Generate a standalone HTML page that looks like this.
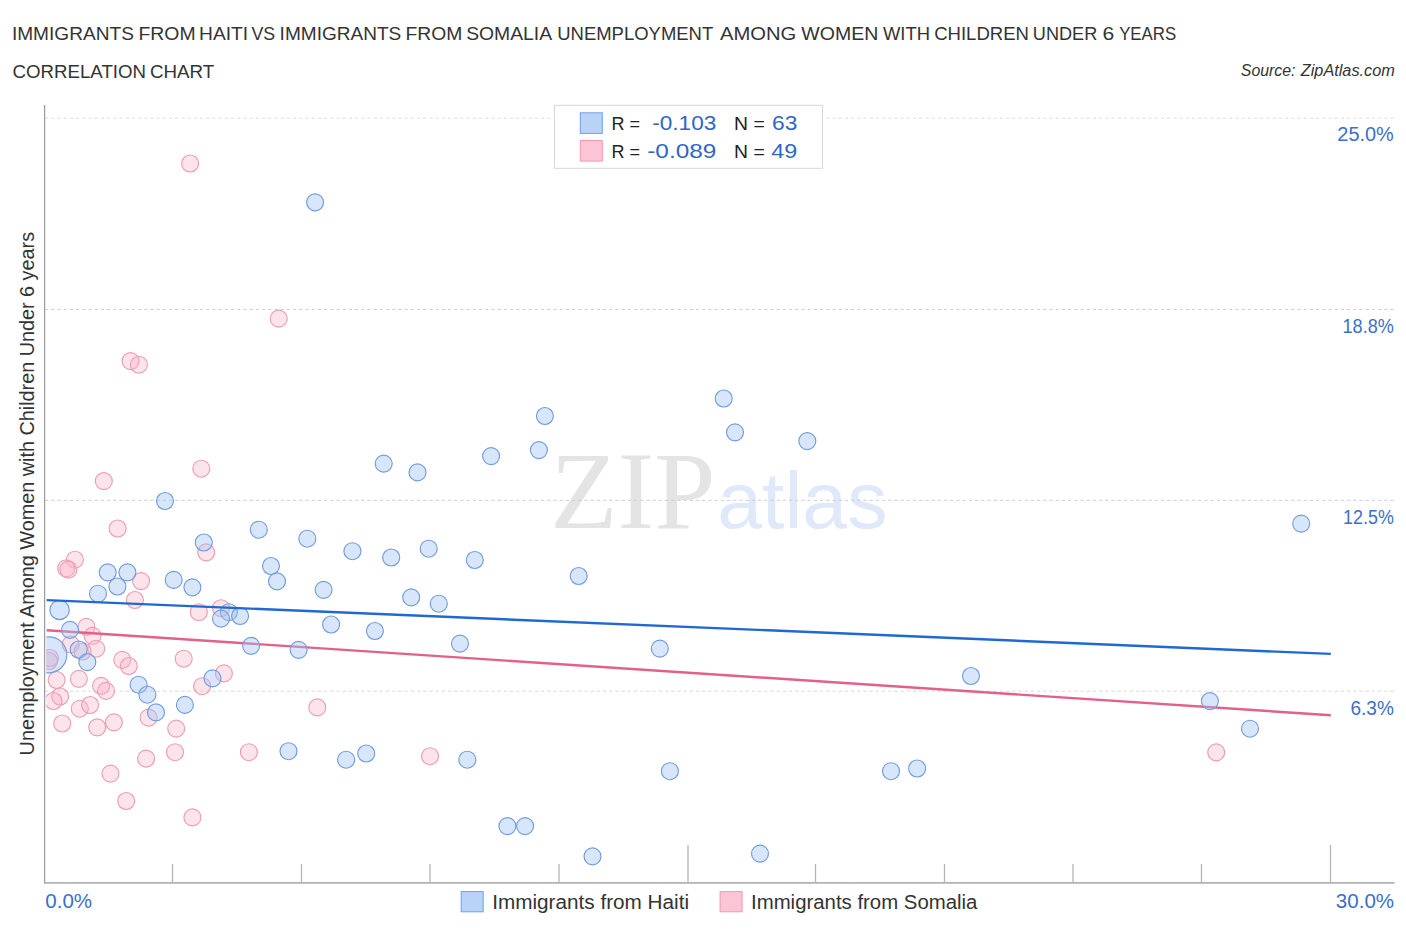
<!DOCTYPE html>
<html><head><meta charset="utf-8"><title>Correlation Chart</title>
<style>
html,body{margin:0;padding:0;background:#fff;}
body{width:1406px;height:930px;overflow:hidden;font-family:"Liberation Sans",sans-serif;}
svg{display:block;position:absolute;left:0;top:0;}
text{font-family:"Liberation Sans",sans-serif;}
.ser{font-family:"Liberation Serif",serif;}
</style></head><body>
<svg width="1406" height="930" viewBox="0 0 1406 930">
<defs><clipPath id="plot"><rect x="46.3" y="100" width="1300" height="783"/></clipPath></defs>
<rect width="1406" height="930" fill="#ffffff"/>
<text x="11.91" y="39.9" font-size="18.7" fill="#333333" textLength="121.99" lengthAdjust="spacingAndGlyphs" >IMMIGRANTS</text>
<text x="138.48" y="39.9" font-size="18.7" fill="#333333" textLength="57.12" lengthAdjust="spacingAndGlyphs" >FROM</text>
<text x="199.10" y="39.9" font-size="18.7" fill="#333333" textLength="49.03" lengthAdjust="spacingAndGlyphs" >HAITI</text>
<text x="251.50" y="39.9" font-size="18.7" fill="#333333" textLength="23.75" lengthAdjust="spacingAndGlyphs" >VS</text>
<text x="279.61" y="39.9" font-size="18.7" fill="#333333" textLength="121.69" lengthAdjust="spacingAndGlyphs" >IMMIGRANTS</text>
<text x="405.59" y="39.9" font-size="18.7" fill="#333333" textLength="56.81" lengthAdjust="spacingAndGlyphs" >FROM</text>
<text x="466.20" y="39.9" font-size="18.7" fill="#333333" textLength="85.91" lengthAdjust="spacingAndGlyphs" >SOMALIA</text>
<text x="557.25" y="39.9" font-size="18.7" fill="#333333" textLength="155.97" lengthAdjust="spacingAndGlyphs" >UNEMPLOYMENT</text>
<text x="720.00" y="39.9" font-size="18.7" fill="#333333" textLength="76.31" lengthAdjust="spacingAndGlyphs" >AMONG</text>
<text x="801.30" y="39.9" font-size="18.7" fill="#333333" textLength="76.99" lengthAdjust="spacingAndGlyphs" >WOMEN</text>
<text x="883.00" y="39.9" font-size="18.7" fill="#333333" textLength="47.00" lengthAdjust="spacingAndGlyphs" >WITH</text>
<text x="934.13" y="39.9" font-size="18.7" fill="#333333" textLength="94.88" lengthAdjust="spacingAndGlyphs" >CHILDREN</text>
<text x="1032.87" y="39.9" font-size="18.7" fill="#333333" textLength="64.36" lengthAdjust="spacingAndGlyphs" >UNDER</text>
<text x="1102.51" y="39.9" font-size="18.7" fill="#333333" textLength="11.75" lengthAdjust="spacingAndGlyphs" >6</text>
<text x="1119.14" y="39.9" font-size="18.7" fill="#333333" textLength="57.07" lengthAdjust="spacingAndGlyphs" >YEARS</text>
<text x="12.52" y="77.7" font-size="18.7" fill="#333333" textLength="133.50" lengthAdjust="spacingAndGlyphs" >CORRELATION</text>
<text x="149.92" y="77.7" font-size="18.7" fill="#333333" textLength="64.30" lengthAdjust="spacingAndGlyphs" >CHART</text>
<text x="1240.85" y="75.8" font-size="16" font-style="italic" fill="#333333" textLength="54.69" lengthAdjust="spacingAndGlyphs" >Source:</text>
<text x="1300.81" y="75.8" font-size="16" font-style="italic" fill="#333333" textLength="93.98" lengthAdjust="spacingAndGlyphs" >ZipAtlas.com</text>
<text class="ser" x="550.24" y="527.7" font-size="110" fill="#e4e4e4" textLength="165.21" lengthAdjust="spacingAndGlyphs" >ZIP</text>
<text x="717.18" y="527.7" font-size="79" fill="#dfe9f9" textLength="170.34" lengthAdjust="spacingAndGlyphs" >atlas</text>
<line x1="45" y1="118.2" x2="1394.5" y2="118.2" stroke="#dedede" stroke-width="1" stroke-dasharray="3.2 3"/>
<line x1="45" y1="309.4" x2="1394.5" y2="309.4" stroke="#cdcdcd" stroke-width="1" stroke-dasharray="3.2 3"/>
<line x1="45" y1="500.3" x2="1394.5" y2="500.3" stroke="#cdcdcd" stroke-width="1" stroke-dasharray="3.2 3"/>
<line x1="45" y1="691.2" x2="1394.5" y2="691.2" stroke="#d8d8d8" stroke-width="1" stroke-dasharray="3.2 3"/>
<line x1="44.6" y1="105" x2="44.6" y2="883.8" stroke="#9e9e9e" stroke-width="1.3"/>
<line x1="44" y1="882.9" x2="1394.5" y2="882.9" stroke="#b2b2b2" stroke-width="1.7"/>
<line x1="172.5" y1="864" x2="172.5" y2="883" stroke="#b4b4b4" stroke-width="1.3"/>
<line x1="301.5" y1="864" x2="301.5" y2="883" stroke="#b4b4b4" stroke-width="1.3"/>
<line x1="430" y1="864" x2="430" y2="883" stroke="#b4b4b4" stroke-width="1.3"/>
<line x1="559" y1="864" x2="559" y2="883" stroke="#b4b4b4" stroke-width="1.3"/>
<line x1="688" y1="845" x2="688" y2="883" stroke="#b4b4b4" stroke-width="1.3"/>
<line x1="815.5" y1="864" x2="815.5" y2="883" stroke="#b4b4b4" stroke-width="1.3"/>
<line x1="944.5" y1="864" x2="944.5" y2="883" stroke="#b4b4b4" stroke-width="1.3"/>
<line x1="1073" y1="864" x2="1073" y2="883" stroke="#b4b4b4" stroke-width="1.3"/>
<line x1="1201.5" y1="864" x2="1201.5" y2="883" stroke="#b4b4b4" stroke-width="1.3"/>
<line x1="1330.5" y1="845" x2="1330.5" y2="883" stroke="#b4b4b4" stroke-width="1.3"/>
<g transform="translate(34.4,754.2) rotate(-90)"><text x="-1.23" y="0" font-size="20" fill="#333333" textLength="523.45" lengthAdjust="spacingAndGlyphs" >Unemployment Among Women with Children Under 6 years</text></g>
<g clip-path="url(#plot)">
<circle cx="190.1" cy="163.5" r="8.5" fill="rgba(250,178,198,0.37)" stroke="#ed9db2" stroke-width="1.15"/>
<circle cx="278.7" cy="318.6" r="8.5" fill="rgba(250,178,198,0.37)" stroke="#ed9db2" stroke-width="1.15"/>
<circle cx="130.6" cy="361.1" r="8.5" fill="rgba(250,178,198,0.37)" stroke="#ed9db2" stroke-width="1.15"/>
<circle cx="138.9" cy="364.7" r="8.5" fill="rgba(250,178,198,0.37)" stroke="#ed9db2" stroke-width="1.15"/>
<circle cx="103.8" cy="481.1" r="8.5" fill="rgba(250,178,198,0.37)" stroke="#ed9db2" stroke-width="1.15"/>
<circle cx="201.3" cy="468.7" r="8.5" fill="rgba(250,178,198,0.37)" stroke="#ed9db2" stroke-width="1.15"/>
<circle cx="117.6" cy="528.5" r="8.5" fill="rgba(250,178,198,0.37)" stroke="#ed9db2" stroke-width="1.15"/>
<circle cx="206.2" cy="552.3" r="8.5" fill="rgba(250,178,198,0.37)" stroke="#ed9db2" stroke-width="1.15"/>
<circle cx="74.9" cy="559.7" r="8.5" fill="rgba(250,178,198,0.37)" stroke="#ed9db2" stroke-width="1.15"/>
<circle cx="66.2" cy="568.4" r="8.5" fill="rgba(250,178,198,0.37)" stroke="#ed9db2" stroke-width="1.15"/>
<circle cx="68.4" cy="569.6" r="8.5" fill="rgba(250,178,198,0.37)" stroke="#ed9db2" stroke-width="1.15"/>
<circle cx="141.1" cy="581.1" r="8.5" fill="rgba(250,178,198,0.37)" stroke="#ed9db2" stroke-width="1.15"/>
<circle cx="134.9" cy="600.0" r="8.5" fill="rgba(250,178,198,0.37)" stroke="#ed9db2" stroke-width="1.15"/>
<circle cx="198.8" cy="612.2" r="8.5" fill="rgba(250,178,198,0.37)" stroke="#ed9db2" stroke-width="1.15"/>
<circle cx="221.0" cy="608.2" r="8.5" fill="rgba(250,178,198,0.37)" stroke="#ed9db2" stroke-width="1.15"/>
<circle cx="86.4" cy="626.9" r="8.5" fill="rgba(250,178,198,0.37)" stroke="#ed9db2" stroke-width="1.15"/>
<circle cx="92.6" cy="635.8" r="8.5" fill="rgba(250,178,198,0.37)" stroke="#ed9db2" stroke-width="1.15"/>
<circle cx="96.2" cy="648.7" r="8.5" fill="rgba(250,178,198,0.37)" stroke="#ed9db2" stroke-width="1.15"/>
<circle cx="70.7" cy="644.3" r="8.5" fill="rgba(250,178,198,0.37)" stroke="#ed9db2" stroke-width="1.15"/>
<circle cx="82.6" cy="651.5" r="8.5" fill="rgba(250,178,198,0.37)" stroke="#ed9db2" stroke-width="1.15"/>
<circle cx="50.0" cy="658.0" r="8.5" fill="rgba(250,178,198,0.37)" stroke="#ed9db2" stroke-width="1.15"/>
<circle cx="49.0" cy="661.0" r="8.5" fill="rgba(250,178,198,0.37)" stroke="#ed9db2" stroke-width="1.15"/>
<circle cx="122.3" cy="659.8" r="8.5" fill="rgba(250,178,198,0.37)" stroke="#ed9db2" stroke-width="1.15"/>
<circle cx="128.8" cy="666.0" r="8.5" fill="rgba(250,178,198,0.37)" stroke="#ed9db2" stroke-width="1.15"/>
<circle cx="183.7" cy="658.7" r="8.5" fill="rgba(250,178,198,0.37)" stroke="#ed9db2" stroke-width="1.15"/>
<circle cx="223.9" cy="673.4" r="8.5" fill="rgba(250,178,198,0.37)" stroke="#ed9db2" stroke-width="1.15"/>
<circle cx="202.1" cy="686.2" r="8.5" fill="rgba(250,178,198,0.37)" stroke="#ed9db2" stroke-width="1.15"/>
<circle cx="56.6" cy="680.0" r="8.5" fill="rgba(250,178,198,0.37)" stroke="#ed9db2" stroke-width="1.15"/>
<circle cx="78.8" cy="678.8" r="8.5" fill="rgba(250,178,198,0.37)" stroke="#ed9db2" stroke-width="1.15"/>
<circle cx="101.1" cy="685.8" r="8.5" fill="rgba(250,178,198,0.37)" stroke="#ed9db2" stroke-width="1.15"/>
<circle cx="106.0" cy="690.8" r="8.5" fill="rgba(250,178,198,0.37)" stroke="#ed9db2" stroke-width="1.15"/>
<circle cx="60.1" cy="696.5" r="8.5" fill="rgba(250,178,198,0.37)" stroke="#ed9db2" stroke-width="1.15"/>
<circle cx="53.5" cy="701.0" r="8.5" fill="rgba(250,178,198,0.37)" stroke="#ed9db2" stroke-width="1.15"/>
<circle cx="79.8" cy="708.7" r="8.5" fill="rgba(250,178,198,0.37)" stroke="#ed9db2" stroke-width="1.15"/>
<circle cx="90.1" cy="705.0" r="8.5" fill="rgba(250,178,198,0.37)" stroke="#ed9db2" stroke-width="1.15"/>
<circle cx="62.2" cy="723.5" r="8.5" fill="rgba(250,178,198,0.37)" stroke="#ed9db2" stroke-width="1.15"/>
<circle cx="97.2" cy="727.3" r="8.5" fill="rgba(250,178,198,0.37)" stroke="#ed9db2" stroke-width="1.15"/>
<circle cx="113.9" cy="722.3" r="8.5" fill="rgba(250,178,198,0.37)" stroke="#ed9db2" stroke-width="1.15"/>
<circle cx="148.6" cy="717.6" r="8.5" fill="rgba(250,178,198,0.37)" stroke="#ed9db2" stroke-width="1.15"/>
<circle cx="176.2" cy="728.6" r="8.5" fill="rgba(250,178,198,0.37)" stroke="#ed9db2" stroke-width="1.15"/>
<circle cx="146.1" cy="758.6" r="8.5" fill="rgba(250,178,198,0.37)" stroke="#ed9db2" stroke-width="1.15"/>
<circle cx="175.0" cy="752.2" r="8.5" fill="rgba(250,178,198,0.37)" stroke="#ed9db2" stroke-width="1.15"/>
<circle cx="248.9" cy="752.2" r="8.5" fill="rgba(250,178,198,0.37)" stroke="#ed9db2" stroke-width="1.15"/>
<circle cx="110.5" cy="773.6" r="8.5" fill="rgba(250,178,198,0.37)" stroke="#ed9db2" stroke-width="1.15"/>
<circle cx="126.2" cy="801.0" r="8.5" fill="rgba(250,178,198,0.37)" stroke="#ed9db2" stroke-width="1.15"/>
<circle cx="192.4" cy="817.4" r="8.5" fill="rgba(250,178,198,0.37)" stroke="#ed9db2" stroke-width="1.15"/>
<circle cx="317.3" cy="707.4" r="8.5" fill="rgba(250,178,198,0.37)" stroke="#ed9db2" stroke-width="1.15"/>
<circle cx="430.0" cy="756.2" r="8.5" fill="rgba(250,178,198,0.37)" stroke="#ed9db2" stroke-width="1.15"/>
<circle cx="1216.2" cy="752.3" r="8.5" fill="rgba(250,178,198,0.37)" stroke="#ed9db2" stroke-width="1.15"/>
</g>
<line x1="46.7" y1="630.2" x2="1330.8" y2="715.2" stroke="#e3608a" stroke-width="2.4"/>
<g clip-path="url(#plot)">
<circle cx="315.1" cy="202.3" r="8.5" fill="rgba(160,196,244,0.42)" stroke="#729cde" stroke-width="1.15"/>
<circle cx="723.7" cy="398.5" r="8.5" fill="rgba(160,196,244,0.42)" stroke="#729cde" stroke-width="1.15"/>
<circle cx="544.9" cy="416.0" r="8.5" fill="rgba(160,196,244,0.42)" stroke="#729cde" stroke-width="1.15"/>
<circle cx="735.0" cy="432.3" r="8.5" fill="rgba(160,196,244,0.42)" stroke="#729cde" stroke-width="1.15"/>
<circle cx="807.3" cy="441.1" r="8.5" fill="rgba(160,196,244,0.42)" stroke="#729cde" stroke-width="1.15"/>
<circle cx="538.9" cy="450.1" r="8.5" fill="rgba(160,196,244,0.42)" stroke="#729cde" stroke-width="1.15"/>
<circle cx="491.1" cy="456.1" r="8.5" fill="rgba(160,196,244,0.42)" stroke="#729cde" stroke-width="1.15"/>
<circle cx="383.7" cy="463.6" r="8.5" fill="rgba(160,196,244,0.42)" stroke="#729cde" stroke-width="1.15"/>
<circle cx="417.5" cy="472.4" r="8.5" fill="rgba(160,196,244,0.42)" stroke="#729cde" stroke-width="1.15"/>
<circle cx="165.0" cy="501.0" r="8.5" fill="rgba(160,196,244,0.42)" stroke="#729cde" stroke-width="1.15"/>
<circle cx="258.8" cy="529.7" r="8.5" fill="rgba(160,196,244,0.42)" stroke="#729cde" stroke-width="1.15"/>
<circle cx="203.8" cy="542.5" r="8.5" fill="rgba(160,196,244,0.42)" stroke="#729cde" stroke-width="1.15"/>
<circle cx="307.3" cy="538.7" r="8.5" fill="rgba(160,196,244,0.42)" stroke="#729cde" stroke-width="1.15"/>
<circle cx="352.4" cy="551.2" r="8.5" fill="rgba(160,196,244,0.42)" stroke="#729cde" stroke-width="1.15"/>
<circle cx="391.2" cy="557.5" r="8.5" fill="rgba(160,196,244,0.42)" stroke="#729cde" stroke-width="1.15"/>
<circle cx="428.7" cy="548.7" r="8.5" fill="rgba(160,196,244,0.42)" stroke="#729cde" stroke-width="1.15"/>
<circle cx="474.8" cy="560.0" r="8.5" fill="rgba(160,196,244,0.42)" stroke="#729cde" stroke-width="1.15"/>
<circle cx="578.7" cy="576.0" r="8.5" fill="rgba(160,196,244,0.42)" stroke="#729cde" stroke-width="1.15"/>
<circle cx="271.0" cy="566.0" r="8.5" fill="rgba(160,196,244,0.42)" stroke="#729cde" stroke-width="1.15"/>
<circle cx="277.0" cy="581.3" r="8.5" fill="rgba(160,196,244,0.42)" stroke="#729cde" stroke-width="1.15"/>
<circle cx="323.6" cy="589.8" r="8.5" fill="rgba(160,196,244,0.42)" stroke="#729cde" stroke-width="1.15"/>
<circle cx="411.2" cy="597.3" r="8.5" fill="rgba(160,196,244,0.42)" stroke="#729cde" stroke-width="1.15"/>
<circle cx="438.8" cy="603.7" r="8.5" fill="rgba(160,196,244,0.42)" stroke="#729cde" stroke-width="1.15"/>
<circle cx="107.7" cy="572.3" r="8.5" fill="rgba(160,196,244,0.42)" stroke="#729cde" stroke-width="1.15"/>
<circle cx="127.4" cy="572.3" r="8.5" fill="rgba(160,196,244,0.42)" stroke="#729cde" stroke-width="1.15"/>
<circle cx="117.4" cy="586.5" r="8.5" fill="rgba(160,196,244,0.42)" stroke="#729cde" stroke-width="1.15"/>
<circle cx="98.0" cy="593.7" r="8.5" fill="rgba(160,196,244,0.42)" stroke="#729cde" stroke-width="1.15"/>
<circle cx="173.7" cy="579.8" r="8.5" fill="rgba(160,196,244,0.42)" stroke="#729cde" stroke-width="1.15"/>
<circle cx="192.4" cy="587.3" r="8.5" fill="rgba(160,196,244,0.42)" stroke="#729cde" stroke-width="1.15"/>
<circle cx="59.6" cy="609.9" r="9.7" fill="rgba(160,196,244,0.42)" stroke="#729cde" stroke-width="1.15"/>
<circle cx="70.0" cy="629.8" r="8.5" fill="rgba(160,196,244,0.42)" stroke="#729cde" stroke-width="1.15"/>
<circle cx="228.9" cy="612.2" r="8.5" fill="rgba(160,196,244,0.42)" stroke="#729cde" stroke-width="1.15"/>
<circle cx="221.0" cy="618.6" r="8.5" fill="rgba(160,196,244,0.42)" stroke="#729cde" stroke-width="1.15"/>
<circle cx="240.1" cy="616.0" r="8.5" fill="rgba(160,196,244,0.42)" stroke="#729cde" stroke-width="1.15"/>
<circle cx="251.1" cy="645.8" r="8.5" fill="rgba(160,196,244,0.42)" stroke="#729cde" stroke-width="1.15"/>
<circle cx="78.7" cy="649.5" r="8.5" fill="rgba(160,196,244,0.42)" stroke="#729cde" stroke-width="1.15"/>
<circle cx="87.3" cy="662.1" r="8.5" fill="rgba(160,196,244,0.42)" stroke="#729cde" stroke-width="1.15"/>
<circle cx="138.6" cy="684.7" r="8.5" fill="rgba(160,196,244,0.42)" stroke="#729cde" stroke-width="1.15"/>
<circle cx="147.4" cy="694.7" r="8.5" fill="rgba(160,196,244,0.42)" stroke="#729cde" stroke-width="1.15"/>
<circle cx="212.5" cy="678.4" r="8.5" fill="rgba(160,196,244,0.42)" stroke="#729cde" stroke-width="1.15"/>
<circle cx="48.8" cy="654.8" r="18.0" fill="rgba(160,196,244,0.42)" stroke="#729cde" stroke-width="1.15"/>
<circle cx="156.0" cy="712.4" r="8.5" fill="rgba(160,196,244,0.42)" stroke="#729cde" stroke-width="1.15"/>
<circle cx="184.9" cy="704.9" r="8.5" fill="rgba(160,196,244,0.42)" stroke="#729cde" stroke-width="1.15"/>
<circle cx="331.1" cy="624.5" r="8.5" fill="rgba(160,196,244,0.42)" stroke="#729cde" stroke-width="1.15"/>
<circle cx="374.9" cy="631.0" r="8.5" fill="rgba(160,196,244,0.42)" stroke="#729cde" stroke-width="1.15"/>
<circle cx="298.6" cy="649.8" r="8.5" fill="rgba(160,196,244,0.42)" stroke="#729cde" stroke-width="1.15"/>
<circle cx="460.0" cy="643.6" r="8.5" fill="rgba(160,196,244,0.42)" stroke="#729cde" stroke-width="1.15"/>
<circle cx="288.5" cy="751.2" r="8.5" fill="rgba(160,196,244,0.42)" stroke="#729cde" stroke-width="1.15"/>
<circle cx="346.1" cy="759.7" r="8.5" fill="rgba(160,196,244,0.42)" stroke="#729cde" stroke-width="1.15"/>
<circle cx="366.2" cy="753.5" r="8.5" fill="rgba(160,196,244,0.42)" stroke="#729cde" stroke-width="1.15"/>
<circle cx="467.3" cy="759.7" r="8.5" fill="rgba(160,196,244,0.42)" stroke="#729cde" stroke-width="1.15"/>
<circle cx="507.4" cy="826.1" r="8.5" fill="rgba(160,196,244,0.42)" stroke="#729cde" stroke-width="1.15"/>
<circle cx="525.1" cy="826.1" r="8.5" fill="rgba(160,196,244,0.42)" stroke="#729cde" stroke-width="1.15"/>
<circle cx="659.8" cy="648.6" r="8.5" fill="rgba(160,196,244,0.42)" stroke="#729cde" stroke-width="1.15"/>
<circle cx="971.0" cy="676.0" r="8.5" fill="rgba(160,196,244,0.42)" stroke="#729cde" stroke-width="1.15"/>
<circle cx="669.9" cy="771.2" r="8.5" fill="rgba(160,196,244,0.42)" stroke="#729cde" stroke-width="1.15"/>
<circle cx="891.0" cy="771.2" r="8.5" fill="rgba(160,196,244,0.42)" stroke="#729cde" stroke-width="1.15"/>
<circle cx="917.1" cy="768.5" r="8.5" fill="rgba(160,196,244,0.42)" stroke="#729cde" stroke-width="1.15"/>
<circle cx="592.5" cy="856.3" r="8.5" fill="rgba(160,196,244,0.42)" stroke="#729cde" stroke-width="1.15"/>
<circle cx="760.0" cy="853.6" r="8.5" fill="rgba(160,196,244,0.42)" stroke="#729cde" stroke-width="1.15"/>
<circle cx="1301.2" cy="523.6" r="8.5" fill="rgba(160,196,244,0.42)" stroke="#729cde" stroke-width="1.15"/>
<circle cx="1209.9" cy="701.1" r="8.5" fill="rgba(160,196,244,0.42)" stroke="#729cde" stroke-width="1.15"/>
<circle cx="1250.0" cy="728.7" r="8.5" fill="rgba(160,196,244,0.42)" stroke="#729cde" stroke-width="1.15"/>
</g>
<line x1="46.7" y1="600.1" x2="1330.8" y2="653.9" stroke="#2069d0" stroke-width="2.4"/>
<text x="1337.37" y="141.1" font-size="20" fill="#3c6fcc" textLength="56.43" lengthAdjust="spacingAndGlyphs" >25.0%</text>
<text x="1342.57" y="332.8" font-size="20" fill="#3c6fcc" textLength="51.17" lengthAdjust="spacingAndGlyphs" >18.8%</text>
<text x="1343.08" y="523.9" font-size="20" fill="#3c6fcc" textLength="50.75" lengthAdjust="spacingAndGlyphs" >12.5%</text>
<text x="1350.51" y="714.5" font-size="20" fill="#3c6fcc" textLength="43.36" lengthAdjust="spacingAndGlyphs" >6.3%</text>
<text x="45.26" y="908" font-size="20" fill="#3c6fcc" textLength="46.85" lengthAdjust="spacingAndGlyphs" >0.0%</text>
<text x="1335.86" y="908" font-size="20" fill="#3c6fcc" textLength="58.25" lengthAdjust="spacingAndGlyphs" >30.0%</text>
<rect x="554.5" y="105.3" width="268" height="63" fill="#ffffff" fill-opacity="0.9" stroke="#d8d8d8" stroke-width="1"/>
<rect x="580.3" y="112.8" width="22" height="20.6" fill="#b9d3f7" stroke="#6fa0e8" stroke-width="1"/>
<rect x="580.3" y="140.5" width="22" height="20.6" fill="#fbc5d5" stroke="#f09ab3" stroke-width="1"/>
<text x="611.49" y="129.8" font-size="19.2" fill="#222222" textLength="28.58" lengthAdjust="spacingAndGlyphs" >R =</text>
<text x="652.29" y="129.8" font-size="20.3" fill="#2f66c8" textLength="64.02" lengthAdjust="spacingAndGlyphs" >-0.103</text>
<text x="734.09" y="129.8" font-size="19.2" fill="#222222" textLength="30.63" lengthAdjust="spacingAndGlyphs" >N =</text>
<text x="772.03" y="129.8" font-size="20.3" fill="#2f66c8" textLength="25.29" lengthAdjust="spacingAndGlyphs" >63</text>
<text x="611.49" y="158.3" font-size="19.2" fill="#222222" textLength="28.58" lengthAdjust="spacingAndGlyphs" >R =</text>
<text x="647.24" y="158.3" font-size="20.3" fill="#2f66c8" textLength="69.15" lengthAdjust="spacingAndGlyphs" >-0.089</text>
<text x="734.09" y="158.3" font-size="19.2" fill="#222222" textLength="30.63" lengthAdjust="spacingAndGlyphs" >N =</text>
<text x="771.33" y="158.3" font-size="20.3" fill="#2f66c8" textLength="26.01" lengthAdjust="spacingAndGlyphs" >49</text>
<rect x="461.2" y="891.6" width="22" height="20.2" fill="#b9d3f7" stroke="#6fa0e8" stroke-width="1"/>
<text x="492.18" y="909" font-size="20" fill="#333333" textLength="196.88" lengthAdjust="spacingAndGlyphs" >Immigrants from Haiti</text>
<rect x="720.1" y="891.6" width="22" height="20.2" fill="#fbc5d5" stroke="#f09ab3" stroke-width="1"/>
<text x="751.01" y="909" font-size="20" fill="#333333" textLength="226.46" lengthAdjust="spacingAndGlyphs" >Immigrants from Somalia</text>
</svg>
</body></html>
